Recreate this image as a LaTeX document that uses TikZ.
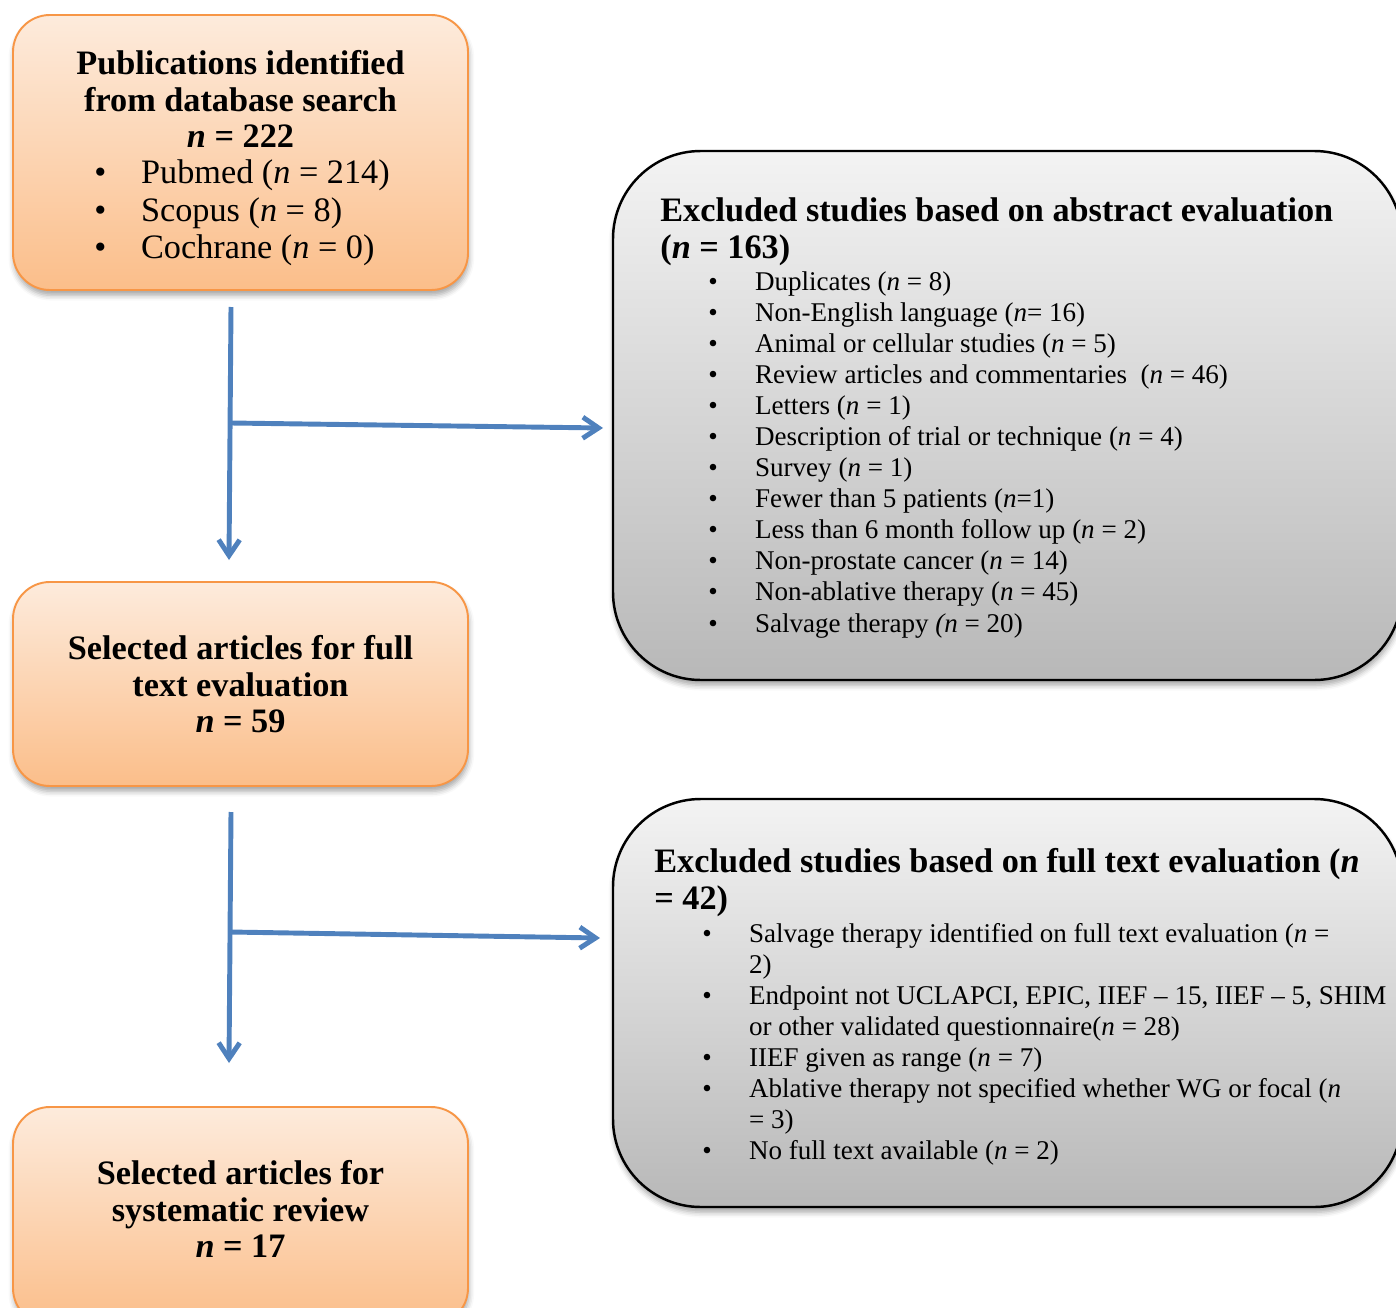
\documentclass[tikz,border=0pt]{standalone}
\usepackage{fontspec}
\setmainfont{Liberation Serif}
\usetikzlibrary{arrows.meta,fit,shadows.blur}

\definecolor{boxorange}{RGB}{247,150,70}
\definecolor{peachtop}{RGB}{253,235,220}
\definecolor{peachbot}{RGB}{251,190,138}
\definecolor{greytop}{RGB}{243,243,243}
\definecolor{greybot}{RGB}{184,184,184}
\definecolor{flowblue}{RGB}{79,129,189}

\newcommand{\bul}{\makebox[26.6pt][l]{\textbullet}}
\newcommand{\hang}{\hspace*{26.6pt}}

\begin{document}
\begin{tikzpicture}[x=0.02cm,y=-0.02cm,
  obox/.style={draw=boxorange, line width=1.1pt, rounded corners=21pt,
    top color=peachtop, bottom color=peachbot, inner sep=0pt,
    blur shadow={shadow xshift=0.5pt, shadow yshift=-3pt, shadow blur radius=3pt, shadow opacity=35}},
  gbox/.style={draw=black, line width=1.4pt, rounded corners=50pt,
    top color=greytop, bottom color=greybot, inner sep=0pt,
    blur shadow={shadow xshift=0.5pt, shadow yshift=-3pt, shadow blur radius=3pt, shadow opacity=35}},
  ttl/.style={align=center, inner sep=0pt, anchor=north,
    font=\fontsize{19.5}{20.8}\selectfont\bfseries},
  gttl/.style={align=left, inner sep=0pt, anchor=north west,
    font=\fontsize{19.5}{21.3}\selectfont\bfseries},
  olist/.style={align=left, inner sep=0pt, anchor=north west,
    font=\fontsize{19.5}{21.3}\selectfont},
  glist/.style={align=left, inner sep=0pt, anchor=north west,
    font=\fontsize{15.4}{17.69}\selectfont},
  flow/.style={draw=flowblue, line width=2.8pt, -{Straight Barb[length=9pt,width=12pt]}}
]
  \useasboundingbox (0,0) rectangle (1396,1308);

  % boxes on the left
  \node[obox, fit={(13,15) (468,290)}] (pub) {};
  \node[obox, fit={(13,582) (468,786)}] (sel) {};
  \node[obox, fit={(13,1107) (468,1325)}] (rev) {};

  % exclusion boxes
  \node[gbox, fit={(613,151) (1402,680)}] (absex) {};
  \node[gbox, fit={(613,799) (1402,1207)}] (fullex) {};

  \node[ttl] (pubttl) at (240.5,50) {Publications identified\\from database search\\\textit{n} = 222};
  \node[olist] (publst) at (94,159.5) {\bul Pubmed (\textit{n} = 214)\\\bul Scopus (\textit{n} = 8)\\\bul Cochrane (\textit{n} = 0)};
  \node[ttl] (selttl) at (240.5,635) {Selected articles for full\\text evaluation\\\textit{n} = 59};
  \node[ttl] (revttl) at (240.5,1160) {Selected articles for\\systematic review\\\textit{n} = 17};

  \node[gttl] (absttl) at (660,197) {Excluded studies based on abstract evaluation\\(\textit{n} = 163)};
  \node[glist] (abslst) at (708,271) {%
    \bul Duplicates (\textit{n} = 8)\\
    \bul Non-English language (\textit{n}= 16)\\
    \bul Animal or cellular studies (\textit{n} = 5)\\
    \bul Review articles and commentaries\ \ (\textit{n} = 46)\\
    \bul Letters (\textit{n} = 1)\\
    \bul Description of trial or technique (\textit{n} = 4)\\
    \bul Survey (\textit{n} = 1)\\
    \bul Fewer than 5 patients (\textit{n}=1)\\
    \bul Less than 6 month follow up (\textit{n} = 2)\\
    \bul Non-prostate cancer (\textit{n} = 14)\\
    \bul Non-ablative therapy (\textit{n} = 45)\\
    \bul Salvage therapy \textit{(n} = 20)};

  \node[gttl] (fullttl) at (654,848) {Excluded studies based on full text evaluation (\textit{n}\\= 42)};
  \node[glist] (fulllst) at (702,923) {%
    \bul Salvage therapy identified on full text evaluation (\textit{n} =\\
    \hang 2)\\
    \bul Endpoint not UCLAPCI, EPIC, IIEF – 15, IIEF – 5, SHIM\\
    \hang or other validated questionnaire(\textit{n} = 28)\\
    \bul IIEF given as range (\textit{n} = 7)\\
    \bul Ablative therapy not specified whether WG or focal (\textit{n}\\
    \hang = 3)\\
    \bul No full text available (\textit{n} = 2)};

  % connectors
  \coordinate (top1) at (231,307);
  \coordinate (fork1) at (231,423);
  \coordinate (tip1) at (229,560);
  \coordinate (side1) at (603,428);
  \coordinate (top2) at (231,812);
  \coordinate (fork2) at (230,932);
  \coordinate (tip2) at (229,1063);
  \coordinate (side2) at (600,938);

  \draw[flow] (top1) -- (tip1);
  \draw[flow] (fork1) -- (side1);
  \draw[flow] (top2) -- (tip2);
  \draw[flow] (fork2) -- (side2);
\end{tikzpicture}
\end{document}
